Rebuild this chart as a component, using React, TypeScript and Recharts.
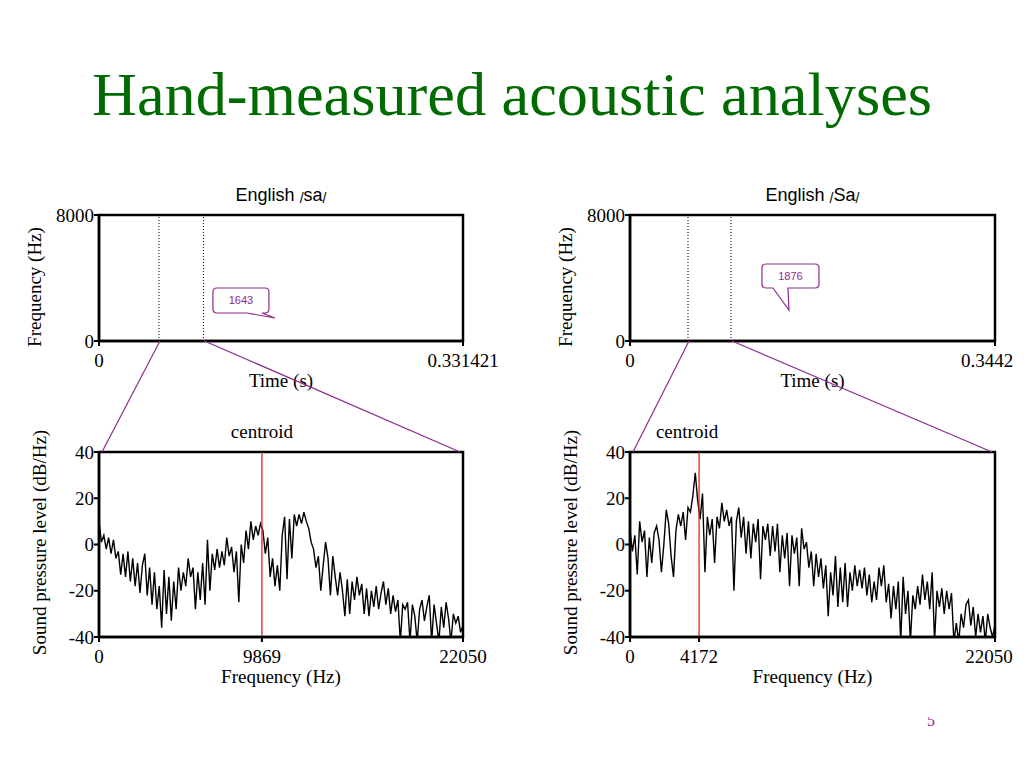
import React from 'react';
import { LineChart, Line, XAxis, YAxis, ReferenceLine, ReferenceArea, ReferenceDot, Label } from 'recharts';

const SERIF = '"Liberation Serif", "Times New Roman", Times, serif';
const SANS = '"Liberation Sans", Arial, Helvetica, sans-serif';
const PURPLE = '#8c2b8c';
const RED = '#e3241b';
const TITLE_GREEN = '#006b00';

// ---- texts ----
const pageTitle = 'Hand-measured acoustic analyses';
const pageNumber = '5';
const panelLanguage = 'English';
const leftSyllable = 'sa';
const rightSyllable = 'Sa';
const timeAxisTitle = 'Time (s)';
const freqAxisTitle = 'Frequency (Hz)';
const splAxisTitle = 'Sound pressure level (dB/Hz)';
const centroidTitle = 'centroid';

// ---- spectrogram (top) panels ----
const spectrogramFreqTicks = [0, 8000];
const leftTimeTicks = [0, 0.331421];
const rightTimeTicks = [0, 0.3442];
const leftSelection = [0.0546, 0.0951];
const rightSelection = [0.0547, 0.0952];
const leftBubble = { label: '1643', time: 0.1602, freq: 1460 };
const rightBubble = { label: '1876', time: 0.1499, freq: 1968 };

// ---- spectrum (bottom) panels ----
const nyquist = 22050;
const leftCentroid = 9869;
const rightCentroid = 4172;
const splTicks = [-40, -20, 0, 20, 40];

const leftSpectrumDb = [
  10, 1, 4, -2, 3, -4, 2, -6, -3, -13,
  -4, -14, -3, -16, -6, -18, -8, -21, -9, -4,
  -22, -10, -26, -12, -28, -18, -36, -11, -30, -14,
  -33, -16, -28, -10, -20, -12, -18, -6, -14, -10,
  -28, -12, -24, -8, -26, 2, -20, -4, -11, -2,
  -10, -3, -9, 3, -5, -1, -12, -3, -25, 0,
  -8, 6, -2, 10, 2, 8, 4, 9, 6, -4,
  3, -14, -6, -18, -9, -20, 4, 12, -15, 11,
  -6, 13, 8, 13, 9, 14, 10, 7, 1, -2,
  -10, -5, -20, -9, 1, -6, -22, -5, -14, -22,
  -12, -20, -31, -15, -30, -16, -24, -14, -22, -17,
  -30, -19, -31, -20, -27, -18, -28, -21, -16, -26,
  -19, -30, -22, -29, -24, -42, -26, -28, -25, -42,
  -26, -31, -42, -28, -24, -33, -27, -22, -42, -26,
  -34, -42, -27, -36, -25, -32, -42, -30, -34, -31,
  -38, -35,
];

const rightSpectrumDb = [
  6, -3, 4, -13, 10, 1, 6, -14, 3, -8,
  5, 8, 2, -12, 0, 15, 9, -5, -14, 6,
  13, 8, 14, 2, 16, 14, 21, 31, 19, 11,
  22, -12, 12, 4, 11, -8, 12, 7, 18, 10,
  15, 8, 12, -20, 10, 16, 3, 12, -4, 10,
  -6, 9, 1, 11, -15, 8, 2, 9, -5, 8,
  -3, 9, -12, 4, -6, 5, -18, 4, -4, 3,
  -18, 7, -2, 1, -10, -3, -18, -4, -14, -6,
  -19, -9, -31, -12, -22, -5, -27, -10, -25, -8,
  -27, -12, -20, -9, -18, -11, -19, -10, -22, -13,
  -25, -16, -24, -10, -18, -9, -25, -17, -32, -18,
  -28, -16, -42, -14, -30, -20, -42, -22, -28, -18,
  -26, -13, -24, -16, -28, -12, -42, -20, -27, -19,
  -30, -20, -28, -21, -42, -34, -42, -30, -36, -26,
  -24, -35, -27, -40, -30, -38, -31, -42, -30, -36,
  -40, -35,
];

// ---- layout ----
const Y_AXIS_W = 99;
const X_AXIS_H = 60;
const RIGHT_MARGIN = 40;
const COL_X = [0, 531];
const PLOT_W = [364, 365];
const TOP_Y = 180;
const TOP_MT = 35;
const TOP_PLOT_H = 126;
const BOT_Y = 410;
const BOT_MT = 42;
const BOT_PLOT_H = 185;
const TICK_FONT = 19;

const axisLineStyle = { stroke: '#000', strokeWidth: 2.5 };
const tickLineStyle = { stroke: '#000', strokeWidth: 2 };
const yTickStyle = { fill: '#000', fontFamily: SERIF, fontSize: TICK_FONT };

function makeXTick(shiftLast: number, lastValue: number) {
  return (props: any) => {
    const { x, y, payload } = props;
    const v = payload.value;
    const dx = v === lastValue ? shiftLast : 0;
    return (
      <text x={x + dx} y={y} dy="0.71em" textAnchor="middle" fontFamily={SERIF} fontSize={TICK_FONT} fill="#000">
        {String(v)}
      </text>
    );
  };
}

function RotatedTitle({ x, y, text }: { x: number; y: number; text: string }) {
  return (
    <text
      x={x}
      y={y}
      transform={`rotate(-90 ${x} ${y})`}
      textAnchor="middle"
      fontFamily={SERIF}
      fontSize={TICK_FONT}
      fill="#000"
    >
      {text}
    </text>
  );
}

type BubbleGeom = { x0: number; x1: number; y0: number; y1: number; ta: number; tb: number };

function makeBubble(label: string, g: BubbleGeom) {
  return (props: any) => {
    const { cx, cy } = props;
    if (cx == null || cy == null) return <g />;
    const r = 4;
    const X0 = cx + g.x0, X1 = cx + g.x1, Y0 = cy + g.y0, Y1 = cy + g.y1;
    const d = [
      `M${X0 + r},${Y0}`,
      `H${X1 - r}`,
      `Q${X1},${Y0} ${X1},${Y0 + r}`,
      `V${Y1 - r}`,
      `Q${X1},${Y1} ${X1 - r},${Y1}`,
      `H${cx + g.tb}`,
      `L${cx},${cy}`,
      `L${cx + g.ta},${Y1}`,
      `H${X0 + r}`,
      `Q${X0},${Y1} ${X0},${Y1 - r}`,
      `V${Y0 + r}`,
      `Q${X0},${Y0} ${X0 + r},${Y0}`,
      'Z',
    ].join(' ');
    return (
      <g>
        <path d={d} fill="#fff" stroke={PURPLE} strokeWidth={1.2} />
        <text
          x={(X0 + X1) / 2}
          y={(Y0 + Y1) / 2}
          dy="0.35em"
          textAnchor="middle"
          fontFamily={SANS}
          fontSize={11}
          fill={PURPLE}
        >
          {label}
        </text>
      </g>
    );
  };
}

function SpectrogramPanel({
  col,
  timeTicks,
  selection,
  bubble,
  geom,
  lastTickShift,
}: {
  col: number;
  timeTicks: number[];
  selection: number[];
  bubble: { label: string; time: number; freq: number };
  geom: BubbleGeom;
  lastTickShift: number;
}) {
  const plotW = PLOT_W[col];
  const width = Y_AXIS_W + plotW + RIGHT_MARGIN;
  const height = TOP_MT + TOP_PLOT_H + X_AXIS_H;
  const tMax = timeTicks[timeTicks.length - 1];
  // selection boundaries sit on the time axis (frequency 0)
  const data = selection.map((t) => ({ t, f: 0 }));
  return (
    <div style={{ position: 'absolute', left: COL_X[col], top: TOP_Y }}>
      <LineChart width={width} height={height} data={data} margin={{ top: TOP_MT, right: RIGHT_MARGIN, bottom: 0, left: 0 }}>
        <XAxis
          dataKey="t"
          type="number"
          domain={[0, tMax]}
          ticks={timeTicks}
          height={X_AXIS_H}
          axisLine={axisLineStyle}
          tickLine={tickLineStyle}
          tickSize={5}
          tickMargin={8}
          tick={makeXTick(lastTickShift, tMax)}
          interval={0}
          allowDataOverflow
        >
          <Label
            content={() => (
              <text
                x={Y_AXIS_W + plotW / 2}
                y={TOP_MT + TOP_PLOT_H + 46}
                textAnchor="middle"
                fontFamily={SERIF}
                fontSize={TICK_FONT}
                fill="#000"
              >
                {timeAxisTitle}
              </text>
            )}
          />
        </XAxis>
        <YAxis
          type="number"
          domain={[0, 8000]}
          ticks={spectrogramFreqTicks}
          width={Y_AXIS_W}
          axisLine={axisLineStyle}
          tickLine={tickLineStyle}
          tickSize={5}
          tickMargin={0}
          tick={yTickStyle}
          interval={0}
          allowDataOverflow
        >
          <Label content={() => <RotatedTitle x={Y_AXIS_W - 58} y={TOP_MT + TOP_PLOT_H / 2 + 9} text={freqAxisTitle} />} />
        </YAxis>
        <Line dataKey="f" stroke="none" strokeWidth={0} dot={false} activeDot={false} isAnimationActive={false} />
        <ReferenceArea x1={0} x2={tMax} y1={0} y2={8000} fill="none" fillOpacity={0} stroke="#000" strokeWidth={2.5} ifOverflow="visible" />
        {selection.map((t) => (
          <ReferenceLine key={t} x={t} stroke="#000" strokeWidth={1} strokeDasharray="1 2" ifOverflow="visible" />
        ))}
        <ReferenceDot x={bubble.time} y={bubble.freq} r={0} shape={makeBubble(bubble.label, geom)} ifOverflow="visible" />
      </LineChart>
    </div>
  );
}

function SpectrumPanel({
  col,
  db,
  centroid,
  centroidDx,
  lastTickShift,
}: {
  col: number;
  db: number[];
  centroid: number;
  centroidDx: number;
  lastTickShift: number;
}) {
  const plotW = PLOT_W[col];
  const width = Y_AXIS_W + plotW + RIGHT_MARGIN;
  const height = BOT_MT + BOT_PLOT_H + X_AXIS_H;
  const data = db.map((v, i) => ({ f: (i * nyquist) / (db.length - 1), db: v }));
  return (
    <div style={{ position: 'absolute', left: COL_X[col], top: BOT_Y }}>
      <LineChart width={width} height={height} data={data} margin={{ top: BOT_MT, right: RIGHT_MARGIN, bottom: 0, left: 0 }}>
        <XAxis
          dataKey="f"
          type="number"
          domain={[0, nyquist]}
          ticks={[0, centroid, nyquist]}
          height={X_AXIS_H}
          axisLine={axisLineStyle}
          tickLine={tickLineStyle}
          tickSize={5}
          tickMargin={8}
          tick={makeXTick(lastTickShift, nyquist)}
          interval={0}
        >
          <Label
            content={() => (
              <text
                x={Y_AXIS_W + plotW / 2}
                y={BOT_MT + BOT_PLOT_H + 46}
                textAnchor="middle"
                fontFamily={SERIF}
                fontSize={TICK_FONT}
                fill="#000"
              >
                {freqAxisTitle}
              </text>
            )}
          />
        </XAxis>
        <YAxis
          type="number"
          domain={[-40, 40]}
          ticks={splTicks}
          allowDataOverflow
          width={Y_AXIS_W}
          axisLine={axisLineStyle}
          tickLine={tickLineStyle}
          tickSize={5}
          tickMargin={0}
          tick={yTickStyle}
          interval={0}
        >
          <Label content={() => <RotatedTitle x={Y_AXIS_W - 53} y={BOT_MT + BOT_PLOT_H / 2 - 2} text={splAxisTitle} />} />
        </YAxis>
        <ReferenceArea x1={0} x2={nyquist} y1={-40} y2={40} fill="none" fillOpacity={0} stroke="#000" strokeWidth={2.5} />
        <Line
          dataKey="db"
          type="linear"
          stroke="#000"
          strokeWidth={1.4}
          dot={false}
          activeDot={false}
          isAnimationActive={false}
        />
        <ReferenceLine
          x={centroid}
          stroke={RED}
          strokeWidth={1.3}
          label={(p: any) => {
            const vx = p?.viewBox?.x ?? Y_AXIS_W + (centroid / nyquist) * plotW;
            return (
              <text x={vx + centroidDx} y={BOT_MT - 14} textAnchor="middle" fontFamily={SERIF} fontSize={TICK_FONT} fill="#000">
                {centroidTitle}
              </text>
            );
          }}
        />
      </LineChart>
    </div>
  );
}

function PanelTitle({ col, syllable }: { col: number; syllable: string }) {
  const x = COL_X[col] + Y_AXIS_W + PLOT_W[col] / 2;
  return (
    <text x={x} y={201} textAnchor="middle" fontFamily={SANS} fontSize={18} fill="#000">
      {panelLanguage + ' '}
      <tspan fontSize={14} dy={2}>/</tspan>
      <tspan dy={-2}>{syllable}</tspan>
      <tspan fontSize={14} dy={2}>/</tspan>
    </text>
  );
}

function Connectors({ col, selection, tMax }: { col: number; selection: number[]; tMax: number }) {
  const plotLeft = COL_X[col] + Y_AXIS_W;
  const plotW = PLOT_W[col];
  const yTop = TOP_Y + TOP_MT + TOP_PLOT_H;
  const yBot = BOT_Y + BOT_MT;
  const xa = plotLeft + (selection[0] / tMax) * plotW + 1;
  const xb = plotLeft + (selection[1] / tMax) * plotW + 1;
  return (
    <g stroke={PURPLE} strokeWidth={1.2} fill="none">
      <line x1={xa} y1={yTop} x2={plotLeft + 3} y2={yBot} />
      <line x1={xb} y1={yTop} x2={plotLeft + plotW - 3} y2={yBot} />
    </g>
  );
}

export default function App() {
  return (
    <div
      style={{
        position: 'absolute',
        left: 0,
        top: 0,
        width: 1024,
        height: 768,
        overflow: 'hidden',
        background: '#fff',
      }}
    >
      <SpectrogramPanel
        col={0}
        timeTicks={leftTimeTicks}
        selection={leftSelection}
        bubble={leftBubble}
        geom={{ x0: -62, x1: -6, y0: -30, y1: -5, ta: -28, tb: -13 }}
        lastTickShift={0}
      />
      <SpectrogramPanel
        col={1}
        timeTicks={rightTimeTicks}
        selection={rightSelection}
        bubble={rightBubble}
        geom={{ x0: -27, x1: 30, y0: -46, y1: -22, ta: -16, tb: -1 }}
        lastTickShift={-8}
      />
      <SpectrumPanel col={0} db={leftSpectrumDb} centroid={leftCentroid} centroidDx={0} lastTickShift={0} />
      <SpectrumPanel col={1} db={rightSpectrumDb} centroid={rightCentroid} centroidDx={-12} lastTickShift={-6} />
      <svg
        width={1024}
        height={768}
        style={{ position: 'absolute', left: 0, top: 0, pointerEvents: 'none', zIndex: 5 }}
      >
        <defs>
          <clipPath id="pageNumClip">
            <rect x={900} y={717} width={80} height={20} />
          </clipPath>
        </defs>
        <text
          x={512}
          y={115}
          textAnchor="middle"
          fontFamily={SERIF}
          fontSize={62}
          fill={TITLE_GREEN}
          textLength={840}
          lengthAdjust="spacingAndGlyphs"
        >
          {pageTitle}
        </text>
        <PanelTitle col={0} syllable={leftSyllable} />
        <PanelTitle col={1} syllable={rightSyllable} />
        <Connectors col={0} selection={leftSelection} tMax={leftTimeTicks[1]} />
        <Connectors col={1} selection={rightSelection} tMax={rightTimeTicks[1]} />
        <text x={931} y={726} textAnchor="middle" fontFamily={SERIF} fontSize={16} fill={PURPLE} clipPath="url(#pageNumClip)">
          {pageNumber}
        </text>
      </svg>
    </div>
  );
}
